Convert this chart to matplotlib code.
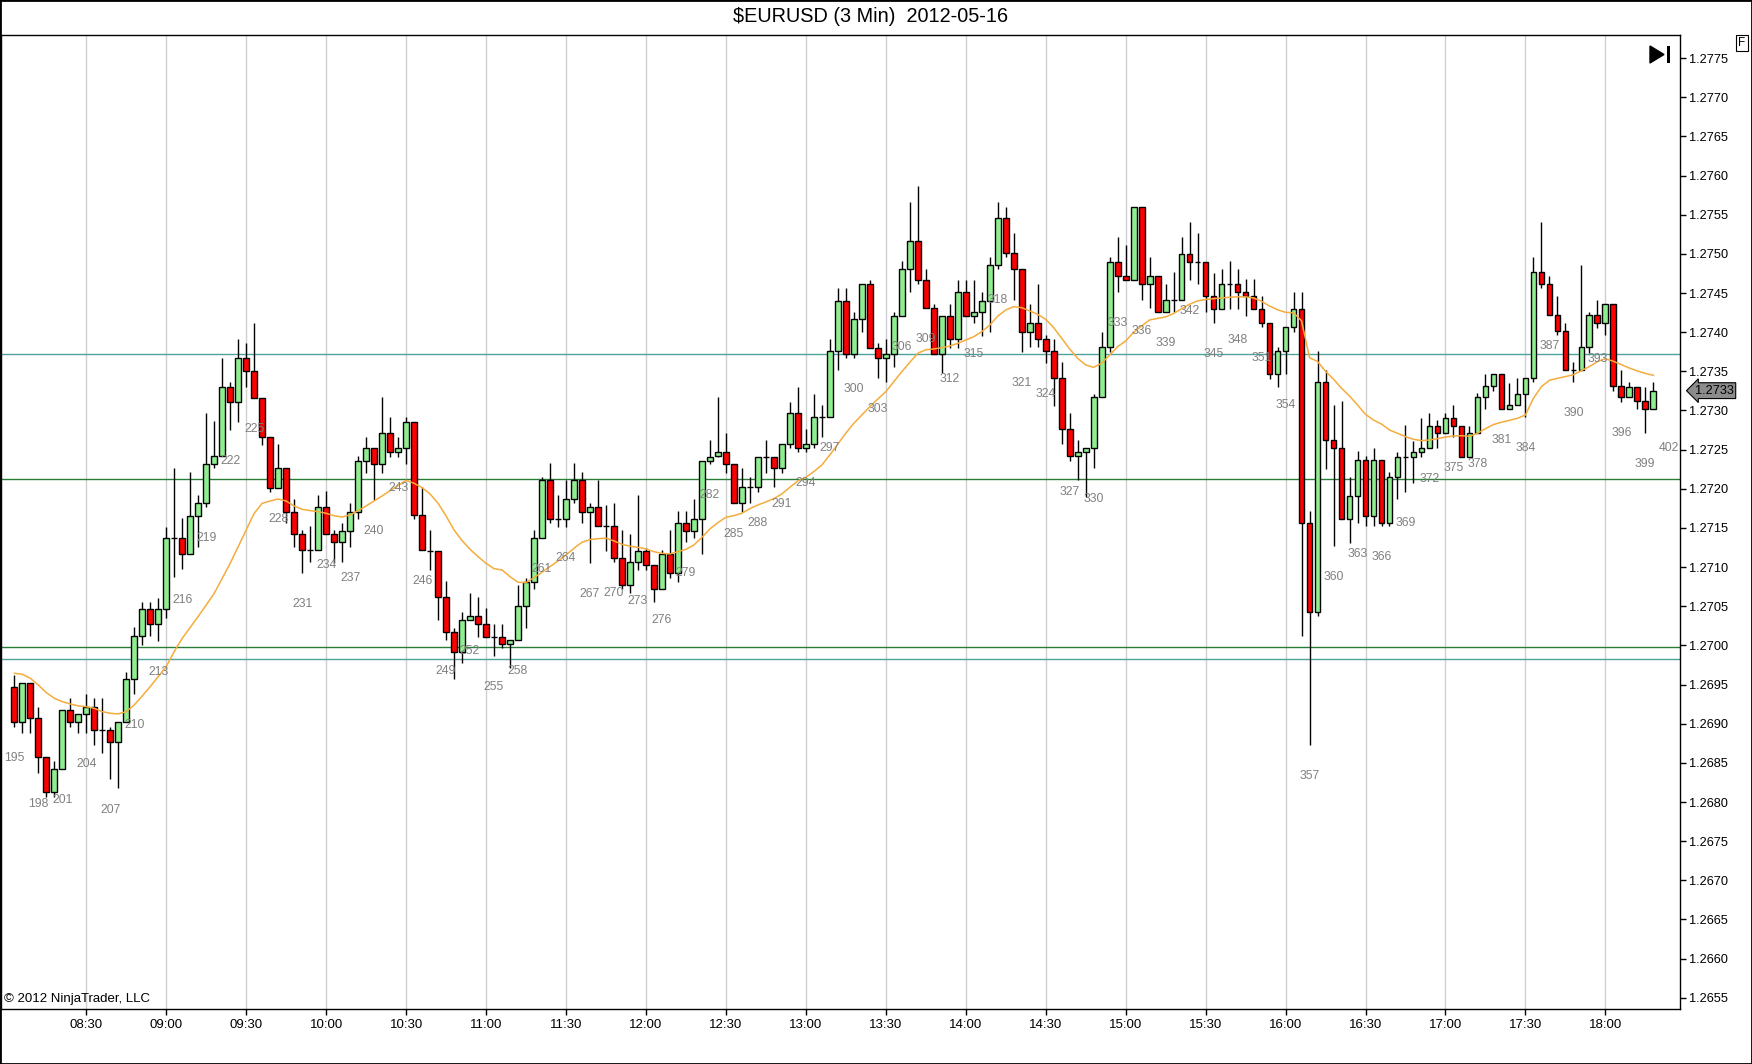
import matplotlib.pyplot as plt
from matplotlib.patches import Rectangle, Polygon
import numpy as np

plt.rcParams['font.family'] = ['Liberation Sans', 'DejaVu Sans']

# Velas de 3 min, barras 195 a 400, valores en pips sobre 1.2700
primera_barra = 195
base = 1.2700

aperturas = [
    -5.35, -9.82, -4.84, -9.31, -14.29, -18.76, -15.82, -8.24, -9.82, -8.80,
    -7.82, -10.80, -10.80, -12.29, -9.82, -4.33, 1.21, 4.70, 2.74, 4.60,
    13.67, 13.67, 11.63, 16.57, 18.14, 23.12, 24.19, 33.04, 31.13, 36.66,
    35.09, 31.64, 26.57, 20.14, 22.61, 17.08, 14.18, 12.18, 12.18, 17.63,
    14.18, 13.16, 14.66, 17.08, 23.59, 25.17, 23.17, 27.09, 24.66, 25.17,
    28.58, 16.66, 12.10, 12.10, 6.14, 1.67, -0.80, 3.25, 3.76, 2.69,
    1.12, 1.12, 0.14, 0.69, 5.08, 8.14, 13.68, 21.13, 16.10, 16.10,
    18.66, 21.13, 17.08, 17.64, 15.25, 15.25, 11.12, 7.72, 10.61, 12.10,
    10.27, 7.16, 11.63, 9.21, 15.59, 14.66, 16.10, 23.59, 24.19, 24.66,
    23.17, 18.15, 20.19, 20.19, 24.10, 24.10, 22.62, 25.68, 29.64, 25.17,
    25.68, 29.13, 29.13, 37.59, 44.02, 37.17, 41.64, 46.11, 38.02, 36.66,
    37.17, 42.10, 48.02, 51.64, 46.62, 43.04, 37.17, 42.10, 39.08, 45.09,
    42.10, 42.62, 44.02, 48.58, 54.54, 50.07, 48.07, 40.07, 41.13, 39.09,
    37.60, 34.11, 27.59, 24.19, 24.66, 25.17, 31.68, 38.07, 49.01, 47.18,
    46.67, 56.03, 46.11, 47.18, 42.54, 44.13, 44.13, 50.03, 48.99, 48.99,
    44.60, 43.00, 46.16, 46.16, 45.12, 44.60, 43.00, 41.12, 34.70, 37.58,
    40.60, 43.00, 15.60, 4.32, 33.61, 26.26, 25.17, 16.10, 19.12, 23.68,
    16.57, 23.68, 15.59, 21.55, 24.10, 24.10, 24.66, 25.17, 28.06, 27.08,
    29.08, 28.06, 24.10, 27.08, 31.68, 33.13, 34.66, 30.15, 30.70, 32.06,
    34.11, 47.73, 46.11, 42.15, 40.15, 35.17, 35.17, 38.15, 42.15, 41.13,
    43.56, 33.13, 31.68, 33.04, 31.21, 30.15,
]
maximos = [
    -3.77, -4.84, -4.84, -7.82, -14.29, -14.71, -8.24, -6.75, -8.80, -6.20,
    -6.75, -6.75, -10.37, -9.82, -3.35, 2.31, 5.50, 5.50, 6.08, 15.16,
    22.61, 16.23, 22.10, 19.21, 29.64, 28.66, 36.66, 33.68, 39.09, 38.58,
    41.13, 31.64, 26.57, 25.72, 22.61, 18.65, 14.74, 15.25, 19.21, 19.72,
    14.74, 15.59, 18.15, 24.19, 26.57, 25.17, 31.77, 29.21, 26.57, 29.21,
    28.58, 20.19, 14.74, 12.10, 8.23, 2.18, 4.31, 6.65, 6.14, 4.74,
    2.69, 2.69, 0.69, 7.72, 8.65, 14.74, 21.55, 23.26, 19.21, 21.13,
    23.26, 22.19, 18.15, 21.13, 17.93, 18.15, 14.74, 14.19, 19.21, 12.40,
    10.27, 12.19, 14.74, 17.17, 17.17, 18.66, 23.59, 26.23, 31.77, 27.09,
    23.17, 22.62, 21.55, 24.10, 26.23, 24.10, 25.68, 31.13, 33.00, 27.60,
    32.11, 30.70, 39.13, 45.60, 45.60, 42.62, 46.11, 46.66, 38.57, 39.13,
    42.62, 49.09, 56.66, 58.66, 48.02, 43.60, 42.10, 43.60, 46.62, 46.62,
    46.62, 45.09, 49.64, 56.66, 56.03, 52.62, 48.07, 43.56, 46.11, 39.64,
    39.09, 36.24, 29.64, 26.23, 25.17, 32.06, 40.07, 49.56, 52.20, 51.13,
    56.03, 56.03, 49.56, 47.18, 46.16, 47.67, 52.20, 54.04, 52.67, 48.99,
    47.58, 48.05, 49.09, 48.05, 46.73, 46.73, 44.60, 41.12, 38.14, 40.60,
    45.12, 45.12, 17.15, 37.58, 35.17, 30.69, 31.21, 21.55, 24.83, 24.19,
    25.17, 23.68, 22.19, 24.74, 28.15, 26.10, 29.08, 29.64, 28.78, 29.64,
    30.70, 28.06, 28.06, 32.19, 34.66, 34.66, 34.66, 33.55, 34.11, 34.11,
    49.64, 54.11, 47.17, 44.62, 41.13, 36.15, 48.58, 42.53, 44.11, 43.56,
    43.56, 35.17, 33.59, 33.04, 33.04, 33.59,
]
minimos = [
    -10.37, -11.22, -11.22, -16.33, -19.31, -19.31, -15.82, -10.37, -11.22, -11.22,
    -12.71, -13.78, -17.00, -18.25, -9.82, -6.20, 0.06, 1.21, 0.61, 3.50,
    8.78, 9.71, 11.63, 12.61, 17.63, 22.61, 24.19, 27.51, 28.57, 33.04,
    31.64, 25.59, 19.63, 20.14, 15.59, 12.61, 9.20, 10.69, 12.18, 14.18,
    10.48, 10.61, 12.61, 16.10, 22.06, 18.57, 22.06, 24.10, 24.10, 23.17,
    16.10, 12.19, 9.63, 3.25, 0.69, -4.33, -2.29, 3.25, 1.12, 1.12,
    -1.31, -0.37, -2.92, 0.69, 2.18, 7.16, 13.68, 15.59, 15.17, 15.17,
    18.15, 15.59, 10.57, 15.25, 12.10, 10.70, 7.16, 6.65, 9.63, 9.63,
    5.59, 7.16, 8.65, 8.14, 13.17, 13.68, 11.63, 23.17, 24.10, 22.06,
    18.15, 17.08, 18.15, 19.64, 22.06, 20.19, 22.06, 25.17, 24.66, 24.66,
    25.17, 26.57, 29.13, 35.17, 36.66, 36.66, 40.06, 38.02, 34.10, 33.59,
    35.59, 42.10, 45.09, 46.11, 43.04, 37.17, 34.74, 38.02, 38.02, 42.10,
    41.13, 39.55, 40.06, 48.02, 49.56, 44.07, 37.51, 38.07, 38.07, 36.11,
    30.62, 25.68, 23.59, 21.12, 19.00, 22.61, 31.68, 37.51, 45.09, 46.67,
    46.67, 44.07, 43.05, 42.54, 42.54, 42.53, 44.13, 46.63, 46.16, 42.53,
    41.12, 43.00, 43.00, 43.00, 42.06, 43.00, 40.60, 34.04, 33.05, 34.70,
    40.03, 1.21, -12.66, 3.71, 22.58, 12.67, 16.10, 13.12, 15.59, 15.25,
    15.25, 15.25, 15.25, 18.70, 19.63, 20.70, 24.10, 25.17, 25.17, 27.08,
    26.66, 24.10, 24.10, 27.08, 30.15, 32.53, 30.15, 30.15, 30.70, 29.21,
    33.68, 45.60, 42.15, 39.64, 35.17, 33.59, 35.17, 37.30, 40.58, 39.64,
    32.53, 31.13, 31.68, 30.15, 27.08, 30.15,
]
cierres = [
    -9.82, -4.84, -9.31, -14.29, -18.76, -15.82, -8.24, -9.82, -8.80, -7.82,
    -10.80, -10.80, -12.29, -9.82, -4.33, 1.21, 4.70, 2.74, 4.60, 13.67,
    13.67, 11.63, 16.57, 18.14, 23.12, 24.19, 33.04, 31.13, 36.66, 35.09,
    31.64, 26.57, 20.14, 22.61, 17.08, 14.18, 12.18, 12.18, 17.63, 14.18,
    13.16, 14.66, 17.08, 23.59, 25.17, 23.17, 27.09, 24.66, 25.17, 28.58,
    16.66, 12.19, 12.10, 6.14, 1.67, -0.80, 3.25, 3.76, 2.69, 1.12,
    1.12, 0.14, 0.69, 5.08, 8.14, 13.68, 21.13, 16.10, 16.10, 18.66,
    21.13, 17.08, 17.64, 15.25, 15.25, 11.12, 7.72, 10.61, 12.10, 10.27,
    7.16, 11.63, 9.21, 15.59, 14.66, 16.10, 23.59, 24.10, 24.66, 23.17,
    18.15, 20.19, 20.19, 24.10, 24.10, 22.62, 25.68, 29.64, 25.17, 25.68,
    29.13, 29.13, 37.59, 44.02, 37.17, 41.64, 46.11, 38.02, 36.66, 37.17,
    42.10, 48.02, 51.64, 46.62, 43.04, 37.17, 42.10, 39.08, 45.09, 42.10,
    42.62, 44.02, 48.58, 54.54, 50.07, 48.07, 40.07, 41.13, 39.09, 37.60,
    34.11, 27.59, 24.19, 24.66, 25.17, 31.68, 38.07, 49.01, 47.18, 46.67,
    56.03, 46.11, 47.18, 42.54, 44.13, 44.13, 50.03, 48.99, 48.99, 44.60,
    43.00, 46.16, 46.16, 45.12, 44.60, 43.00, 41.12, 34.70, 37.58, 40.60,
    43.00, 15.60, 4.32, 33.61, 26.26, 25.17, 16.10, 19.12, 23.68, 16.57,
    23.68, 15.59, 21.55, 24.10, 24.10, 24.66, 25.17, 28.06, 27.08, 29.08,
    28.06, 24.10, 27.08, 31.68, 33.13, 34.66, 30.15, 30.70, 32.06, 34.11,
    47.73, 46.11, 42.15, 40.15, 35.17, 35.17, 38.15, 42.15, 41.13, 43.56,
    33.13, 31.68, 33.04, 31.21, 30.15, 32.53,
]
# media movil (linea naranja)
media = [
    -3.56, -3.69, -4.20, -5.05, -6.03, -6.75, -7.18, -7.48, -7.73, -7.82,
    -8.03, -8.46, -8.67, -8.75, -8.46, -7.60, -6.46, -5.26, -3.99, -2.71,
    -0.79, 0.90, 2.30, 3.70, 5.16, 6.65, 8.56, 10.48, 12.61, 14.74,
    16.87, 18.14, 18.44, 18.70, 18.44, 17.80, 17.38, 17.21, 17.08, 16.87,
    16.55, 16.40, 16.66, 17.21, 17.81, 18.44, 19.08, 19.76, 20.40, 21.08,
    20.70, 20.15, 19.34, 18.15, 16.53, 14.74, 13.38, 12.27, 11.34, 10.48,
    9.80, 9.63, 8.78, 8.06, 8.02, 8.65, 9.34, 10.06, 10.78, 11.55,
    12.40, 13.17, 13.51, 13.63, 13.68, 13.34, 12.91, 12.66, 12.53, 12.32,
    11.97, 11.76, 11.68, 11.97, 12.27, 12.82, 13.80, 14.87, 15.68, 16.36,
    16.57, 16.87, 17.47, 17.93, 18.32, 18.74, 19.34, 20.19, 21.00, 21.47,
    22.19, 23.04, 24.32, 25.70, 27.10, 28.36, 29.42, 30.48, 31.46, 32.40,
    33.68, 34.95, 36.15, 37.30, 37.76, 37.85, 38.02, 38.23, 38.57, 39.00,
    39.42, 40.06, 40.90, 42.05, 42.83, 43.26, 43.13, 42.71, 42.28, 41.64,
    40.58, 39.22, 37.85, 36.66, 35.81, 35.51, 36.02, 37.09, 38.15, 38.87,
    39.98, 40.79, 41.56, 41.75, 41.95, 42.39, 43.00, 43.57, 43.99, 44.18,
    44.28, 44.37, 44.46, 44.51, 44.51, 44.37, 43.95, 43.33, 42.86, 42.53,
    42.48, 41.45, 36.73, 36.26, 35.00, 34.00, 32.83, 31.85, 30.70, 29.51,
    28.78, 28.27, 27.51, 27.08, 26.66, 26.32, 26.15, 26.23, 26.40, 26.61,
    26.74, 26.78, 26.70, 27.08, 27.68, 28.20, 28.50, 28.74, 29.00, 29.42,
    31.55, 33.04, 33.85, 34.11, 34.32, 34.57, 35.08, 35.60, 36.23, 36.62,
    36.28, 35.85, 35.42, 35.04, 34.74, 34.49,
]

# lineas horizontales (precio)
lineas_teal = [1.27372, 1.26983]
lineas_verdes = [1.27213, 1.26998]

# etiquetas de numero de barra cada 3 barras; la 402 no tiene vela
etiquetas = list(range(195, 403, 3))
minimo_402 = 29.2

horas = ['08:30', '09:00', '09:30', '10:00', '10:30', '11:00', '11:30', '12:00',
         '12:30', '13:00', '13:30', '14:00', '14:30', '15:00', '15:30', '16:00',
         '16:30', '17:00', '17:30', '18:00']
barra_0830 = 204

precios_eje = np.arange(1.2655, 1.27751, 0.0005)

# conversion a precio
o = base + np.array(aperturas) / 10000
h = base + np.array(maximos) / 10000
l = base + np.array(minimos) / 10000
c = base + np.array(cierres) / 10000
ma = base + np.array(media) / 10000
x = np.arange(primera_barra, primera_barra + len(o))

fig = plt.figure(figsize=(17.52, 10.64), dpi=100)
ax = fig.add_axes([0.0006, 0.0517, 0.9581, 0.9158])
ax.set_xlim(193.34, 403.29)
ax.set_ylim(1.265357, 1.27780)

# rejilla vertical cada 30 min
ticks_x = [barra_0830 + 10 * i for i in range(len(horas))]
for t in ticks_x:
    ax.axvline(t, color='#d0d0d0', lw=1, zorder=0)

for p in lineas_teal:
    ax.axhline(p, color='#4fa39b', lw=1, zorder=1)
for p in lineas_verdes:
    ax.axhline(p, color='#2a7d34', lw=1, zorder=1)

# velas
sube = c >= o
ax.vlines(x, l, h, color='black', lw=1, zorder=2)
ax.bar(x, np.abs(c - o), bottom=np.minimum(o, c), width=0.72,
       color=np.where(sube, '#90ee90', '#ff0000'), edgecolor='black', linewidth=1, zorder=3)

ax.plot(x, ma, color='#f5ac3c', lw=1.1, zorder=4)

# numeros de barra
for n in etiquetas:
    if n - primera_barra < len(l):
        y = l[n - primera_barra]
    else:
        y = base + minimo_402 / 10000
    ax.annotate(str(n), (n, y), xytext=(0, -31), textcoords='offset pixels',
                ha='center', va='center', fontsize=8.8, color='#808080', zorder=5)

ax.set_xticks(ticks_x)
ax.set_xticklabels(horas, fontsize=9.5)
ax.set_yticks(precios_eje)
ax.set_yticklabels(['%.4f' % p for p in precios_eje], fontsize=9.2)
ax.yaxis.tick_right()
ax.tick_params(axis='both', direction='out', length=4, width=1, color='black', pad=3)
for s in ax.spines.values():
    s.set_color('black')
    s.set_linewidth(1)

# ultimo precio
ax.annotate('%.4f' % c[-1], xy=(1, c[-1]), xycoords=('axes fraction', 'data'),
            xytext=(11, 0), textcoords='offset points', ha='left', va='center', fontsize=9.2,
            bbox=dict(boxstyle='larrow,pad=0.15', fc='#8c8c8c', ec='black', lw=0.8))

ax.text(0.002, 0.004, '\u00a9 2012 NinjaTrader, LLC', transform=ax.transAxes,
        fontsize=9.5, ha='left', va='bottom')

fig.text(0.497, 1 - 17 / 1064, r'\$EURUSD (3 Min)  2012-05-16', ha='center', va='center', fontsize=14.3)

# boton F y simbolo de avance
fig.text(1742 / 1752, 1 - 43 / 1064, 'F', ha='center', va='center', fontsize=8.5,
         bbox=dict(boxstyle='square,pad=0.2', fc='white', ec='black', lw=0.8))
fig.patches.append(Polygon([[1650 / 1752, 1 - 46 / 1064], [1650 / 1752, 1 - 63 / 1064],
                            [1664 / 1752, 1 - 54.5 / 1064]], closed=True,
                           transform=fig.transFigure, fc='black', ec='black'))
fig.patches.append(Rectangle((1667 / 1752, 1 - 63 / 1064), 3 / 1752, 17 / 1064,
                             transform=fig.transFigure, fc='black', ec='none'))
fig.patches.append(Rectangle((0, 0), 1, 1, transform=fig.transFigure, fill=False,
                             ec='black', lw=2))

fig.savefig('out.png', dpi=100)
